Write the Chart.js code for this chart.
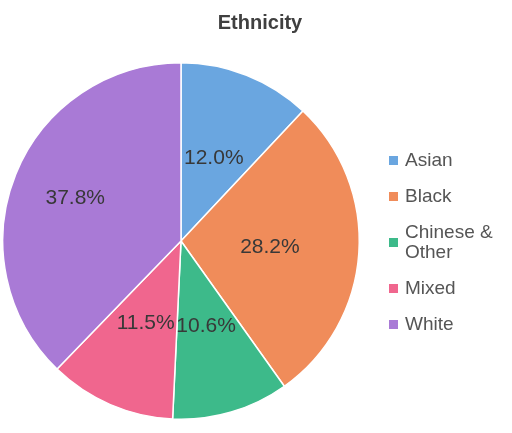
<!DOCTYPE html>
<html>
<head>
<meta charset="utf-8">
<script src="https://cdn.jsdelivr.net/npm/chart.js@4"></script>
<style>
  body { margin: 0; background: #fff; }
  #wrap { position: relative; width: 512px; height: 433px; font-family: Arial, "Liberation Sans", sans-serif; }
  #titulo { position: absolute; left: 0; width: 520px; top: 11px; text-align: center; font-weight: bold; font-size: 20px; color: #404040; }
  #legenda { position: absolute; left: 389px; top: 150px; width: 123px; }
  .item { display: flex; align-items: center; margin-bottom: 16px; }
  .quad { width: 9px; height: 9px; margin-right: 7px; flex: none; }
  .txt { font-size: 19px; line-height: 20px; color: #555; width: 112px; }
</style>
</head>
<body>
<div id="wrap">
  <canvas id="grafico" width="512" height="433"></canvas>
  <div id="titulo">Ethnicity</div>
  <div id="legenda"></div>
</div>
<script>
// dados do grafico
var categorias = ['Asian', 'Black', 'Chinese & Other', 'Mixed', 'White']
var percentuais = [12.0, 28.2, 10.6, 11.5, 37.8]
var cores = ['#6aa6e0', '#f08c5a', '#3dba8a', '#f0668e', '#a97ad6']

// legenda em html (para quebrar "Chinese & Other" em duas linhas)
var legenda = document.getElementById('legenda')
for (let i = 0; i < categorias.length; i++) {
    legenda.innerHTML += `<div class="item"><span class="quad" style="background:${cores[i]}"></span><span class="txt">${categorias[i]}</span></div>`
}

// plugin simples para escrever as porcentagens dentro das fatias
var rotulos = {
    id: 'rotulos',
    afterDatasetsDraw(chart, args, opts) {
        var ctx = chart.ctx
        var meta = chart.getDatasetMeta(0)
        ctx.save()
        ctx.font = opts.font
        ctx.fillStyle = opts.color
        ctx.textAlign = 'center'
        ctx.textBaseline = 'middle'
        meta.data.forEach(function (arco, i) {
            var p = arco.getProps(['x', 'y', 'startAngle', 'endAngle', 'outerRadius'], true)
            var meio = (p.startAngle + p.endAngle) / 2
            var r = p.outerRadius * opts.raio[i]
            ctx.fillText(percentuais[i].toFixed(1) + '%', p.x + Math.cos(meio) * r, p.y + Math.sin(meio) * r)
        })
        ctx.restore()
    }
}

new Chart(document.getElementById('grafico'), {
    type: 'pie',
    data: {
        labels: categorias,
        datasets: [{
            data: percentuais,
            backgroundColor: cores,
            borderColor: '#ffffff',
            borderWidth: 1.5
        }]
    },
    options: {
        responsive: false,
        animation: false,
        layout: { padding: { left: 2, right: 152, top: 61, bottom: 12 } },
        plugins: {
            legend: { display: false },
            tooltip: { enabled: false },
            rotulos: { font: '21px Arial, "Liberation Sans", sans-serif', color: '#383838', raio: [0.5, 0.5, 0.5, 0.5, 0.64] }
        }
    },
    plugins: [rotulos]
})
</script>
</body>
</html>
